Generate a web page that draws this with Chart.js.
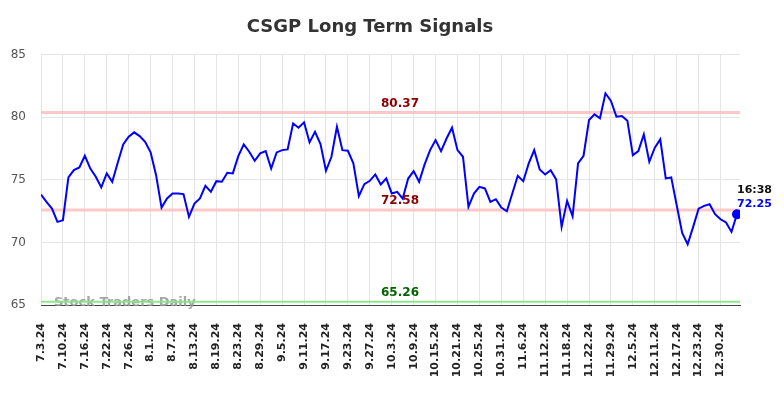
<!DOCTYPE html>
<html>
<head>
<meta charset="utf-8">
<script src="https://cdn.jsdelivr.net/npm/chart.js@4/dist/chart.umd.min.js"></script>
<style>
  html, body { margin: 0; padding: 0; background: #fff; }
  #wrap { width: 784px; height: 398px; }
</style>
</head>
<body>
<div id="wrap"><canvas id="c" width="784" height="398"></canvas></div>
<script>
const dates = [
  "7.3.24","7.5.24","7.8.24","7.9.24","7.10.24","7.11.24","7.12.24","7.15.24","7.16.24","7.17.24",
  "7.18.24","7.19.24","7.22.24","7.23.24","7.24.24","7.25.24","7.26.24","7.29.24","7.30.24","7.31.24",
  "8.1.24","8.2.24","8.5.24","8.6.24","8.7.24","8.8.24","8.9.24","8.12.24","8.13.24","8.14.24",
  "8.15.24","8.16.24","8.19.24","8.20.24","8.21.24","8.22.24","8.23.24","8.26.24","8.27.24","8.28.24",
  "8.29.24","8.30.24","9.3.24","9.4.24","9.5.24","9.6.24","9.9.24","9.10.24","9.11.24","9.12.24",
  "9.13.24","9.16.24","9.17.24","9.18.24","9.19.24","9.20.24","9.23.24","9.24.24","9.25.24","9.26.24",
  "9.27.24","9.30.24","10.1.24","10.2.24","10.3.24","10.4.24","10.7.24","10.8.24","10.9.24","10.10.24",
  "10.11.24","10.14.24","10.15.24","10.16.24","10.17.24","10.18.24","10.21.24","10.22.24","10.23.24","10.24.24",
  "10.25.24","10.28.24","10.29.24","10.30.24","10.31.24","11.1.24","11.4.24","11.5.24","11.6.24","11.7.24",
  "11.8.24","11.11.24","11.12.24","11.13.24","11.14.24","11.15.24","11.18.24","11.19.24","11.20.24","11.21.24",
  "11.22.24","11.25.24","11.26.24","11.27.24","11.29.24","12.2.24","12.3.24","12.4.24","12.5.24","12.6.24",
  "12.9.24","12.10.24","12.11.24","12.12.24","12.13.24","12.16.24","12.17.24","12.18.24","12.19.24","12.20.24",
  "12.23.24","12.24.24","12.26.24","12.27.24","12.30.24","12.31.24","1.2.25","1.3.25"
];

const signalValues = [
  73.82,73.24,72.70,71.64,71.77,75.19,75.77,75.99,76.92,75.90,
  75.24,74.39,75.51,74.84,76.36,77.83,78.44,78.79,78.49,78.04,
  77.19,75.37,72.78,73.51,73.91,73.91,73.86,72.04,73.10,73.51,
  74.52,74.04,74.89,74.84,75.56,75.51,76.89,77.83,77.24,76.52,
  77.11,77.29,75.90,77.19,77.37,77.43,79.50,79.16,79.59,77.99,
  78.84,77.85,75.72,76.84,79.24,77.37,77.32,76.31,73.69,74.65,
  74.92,75.43,74.63,75.11,73.91,74.04,73.50,75.10,75.69,74.84,
  76.23,77.37,78.17,77.29,78.30,79.16,77.37,76.84,72.84,73.90,
  74.44,74.31,73.24,73.45,72.78,72.49,73.90,75.32,74.89,76.31,
  77.37,75.83,75.43,75.77,75.03,71.24,73.32,72.09,76.31,76.92,
  79.77,80.23,79.91,81.91,81.30,80.04,80.09,79.72,76.97,77.29,
  78.63,76.44,77.56,78.23,75.11,75.19,72.97,70.76,69.85,71.24,
  72.70,72.92,73.05,72.25,71.85,71.59,70.84,72.25
];

const levelValues = [80.37, 72.58, 65.26];
const levelLineColors = ["rgba(255,190,190,0.85)", "rgba(255,190,190,0.85)", "rgba(130,230,130,0.9)"];
const levelTextColors = ["#8b0000", "#8b0000", "#006400"];
const yTicks = [65, 70, 75, 80, 85];
const lastTime = "16:38";

const overlay = {
  id: "overlay",
  beforeDatasetsDraw(chart) {
    const ctx = chart.ctx, ca = chart.chartArea, y = chart.scales.y;
    ctx.save();
    ctx.font = "bold 13px 'DejaVu Sans'";
    ctx.fillStyle = "rgba(150,150,150,0.85)";
    ctx.textAlign = "left";
    ctx.textBaseline = "middle";
    ctx.fillText("Stock Traders Daily", 54, 303);
    levelValues.forEach((v, i) => {
      const py = y.getPixelForValue(v);
      ctx.strokeStyle = levelLineColors[i];
      ctx.lineWidth = i === 2 ? 2 : 3;
      ctx.beginPath();
      ctx.moveTo(ca.left, py);
      ctx.lineTo(ca.right, py);
      ctx.stroke();
    });
    ctx.restore();
  },
  afterDatasetsDraw(chart) {
    const ctx = chart.ctx, y = chart.scales.y;
    ctx.save();
    ctx.font = "bold 12px 'DejaVu Sans'";
    ctx.textAlign = "center";
    ctx.textBaseline = "bottom";
    levelValues.forEach((v, i) => {
      const py = y.getPixelForValue(v);
      ctx.fillStyle = levelTextColors[i];
      ctx.fillText(v.toFixed(2), 400, py - 3);
    });
    const meta = chart.getDatasetMeta(0);
    const last = meta.data[meta.data.length - 1];
    ctx.font = "bold 11px 'DejaVu Sans'";
    ctx.textAlign = "left";
    ctx.textBaseline = "middle";
    ctx.fillStyle = "#111";
    ctx.fillText(lastTime, last.x, last.y - 24);
    ctx.fillStyle = "#0000ff";
    ctx.fillText(signalValues[signalValues.length - 1].toFixed(2), last.x, last.y - 10);
    ctx.restore();
  }
};

new Chart(document.getElementById("c"), {
  type: "line",
  data: {
    datasets: [{
      data: signalValues.map((v, i) => ({ x: i, y: v })),
      borderColor: "#0000ff",
      backgroundColor: "#0000ff",
      borderWidth: 2,
      tension: 0,
      pointRadius: ctx => ctx.dataIndex === signalValues.length - 1 ? 4 : 0,
      pointHoverRadius: 0
    }]
  },
  options: {
    responsive: false,
    animation: false,
    events: [],
    layout: { padding: { left: 0, right: 44, top: 0, bottom: 0 } },
    plugins: {
      legend: { display: false },
      tooltip: { enabled: false },
      title: {
        display: true,
        text: "CSGP Long Term Signals",
        color: "#333",
        font: { family: "'DejaVu Sans'", size: 18, weight: "bold" },
        padding: { top: 17, bottom: 16 }
      }
    },
    scales: {
      x: {
        type: "linear",
        min: 0,
        max: 127.55,
        afterBuildTicks: s => { s.ticks = dates.map((d, i) => ({ value: i })).filter(t => t.value % 4 === 0); },
        afterFit: s => { s.height = 93; },
        ticks: {
          autoSkip: false,
          minRotation: 90,
          maxRotation: 90,
          padding: 18,
          color: "#222",
          font: { family: "'DejaVu Sans'", size: 11, weight: "bold" },
          callback: v => dates[v]
        },
        grid: { color: "#e4e4e4", drawTicks: false },
        border: { color: "#444", width: 1 }
      },
      y: {
        min: 65,
        max: 85,
        afterBuildTicks: s => { s.ticks = yTicks.map(v => ({ value: v })); },
        afterFit: s => { s.width = 41; },
        ticks: {
          padding: 15,
          color: "#555",
          font: { family: "'DejaVu Sans'", size: 12 }
        },
        grid: { color: "#e4e4e4", drawTicks: false },
        border: { display: false }
      }
    }
  },
  plugins: [overlay]
});
</script>
</body>
</html>
